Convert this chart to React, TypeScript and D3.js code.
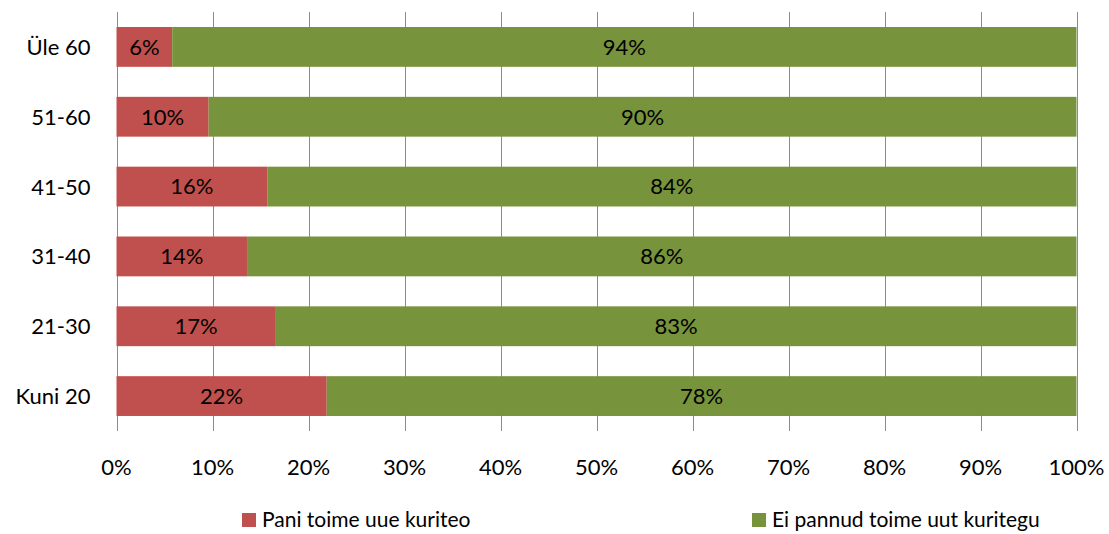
import React, { useEffect, useRef } from "react";
import * as d3 from "d3";

// age groups, top to bottom
const CATEGORIES = ["Üle 60", "51-60", "41-50", "31-40", "21-30", "Kuni 20"];
// share that committed a new crime (%), the rest is the other series
const COMMITTED = [5.8, 9.6, 15.7, 13.6, 16.6, 21.9];
const NOT_COMMITTED = COMMITTED.map((v) => 100 - v);
const SERIES_NAMES = ["Pani toime uue kuriteo", "Ei pannud toime uut kuritegu"];
const TICKS = [0, 10, 20, 30, 40, 50, 60, 70, 80, 90, 100];

const COLORS = ["#C0504D", "#77933C"];
const FONT = "Lato, 'Open Sans', sans-serif";
const FS = "22px";

export default function App() {
  const svgRef = useRef<SVGSVGElement | null>(null);
  const width = 1109;
  const height = 534;

  useEffect(() => {
    const svg = d3.select(svgRef.current);
    svg.selectAll("*").remove();

    const margin = { top: 12, left: 116.5, right: 32.5, bottom: 103 };
    const x = d3.scaleLinear().domain([0, 100]).range([margin.left, width - margin.right]);
    const y = d3
      .scaleBand()
      .domain(CATEGORIES)
      .range([margin.top, height - margin.bottom])
      .paddingInner(0.43)
      .paddingOuter(0.215);

    // vertical gridlines
    svg
      .append("g")
      .selectAll("line")
      .data(TICKS)
      .join("line")
      .attr("x1", (d) => Math.round(x(d)) + 0.5)
      .attr("x2", (d) => Math.round(x(d)) + 0.5)
      .attr("y1", margin.top)
      .attr("y2", height - margin.bottom)
      .attr("stroke", "#8c8c8c")
      .attr("stroke-width", 1);

    const rows = CATEGORIES.map((c, i) => ({
      cat: c,
      segs: [
        { x0: 0, x1: COMMITTED[i], v: COMMITTED[i], s: 0 },
        { x0: COMMITTED[i], x1: 100, v: NOT_COMMITTED[i], s: 1 },
      ],
    }));

    const g = svg
      .append("g")
      .selectAll("g")
      .data(rows)
      .join("g")
      .attr("transform", (d) => `translate(0,${y(d.cat)})`);

    g.selectAll("rect")
      .data((d) => d.segs)
      .join("rect")
      .attr("x", (d) => x(d.x0))
      .attr("width", (d) => x(d.x1) - x(d.x0))
      .attr("y", 0)
      .attr("height", y.bandwidth())
      .attr("fill", (d) => COLORS[d.s]);

    g.selectAll("text")
      .data((d) => d.segs)
      .join("text")
      .attr("x", (d) => (x(d.x0) + x(d.x1)) / 2)
      .attr("y", y.bandwidth() / 2)
      .attr("dy", "0.36em")
      .attr("text-anchor", "middle")
      .style("font-family", FONT)
      .style("font-size", FS)
      .attr("fill", "#000")
      .text((d) => `${Math.round(d.v)}%`);

    // category labels
    svg
      .append("g")
      .selectAll("text")
      .data(CATEGORIES)
      .join("text")
      .attr("x", margin.left - 26)
      .attr("y", (d) => (y(d) ?? 0) + y.bandwidth() / 2)
      .attr("dy", "0.36em")
      .attr("text-anchor", "end")
      .style("font-family", FONT)
      .style("font-size", FS)
      .text((d) => d);

    // x tick labels
    svg
      .append("g")
      .selectAll("text")
      .data(TICKS)
      .join("text")
      .attr("x", (d) => x(d))
      .attr("y", 475)
      .attr("text-anchor", "middle")
      .style("font-family", FONT)
      .style("font-size", FS)
      .text((d) => `${d}%`);

    // legend
    const legendX = [242, 752];
    const lg = svg
      .append("g")
      .selectAll("g")
      .data(SERIES_NAMES)
      .join("g")
      .attr("transform", (_, i) => `translate(${legendX[i]},0)`);
    lg.append("rect")
      .attr("x", 0)
      .attr("y", 513)
      .attr("width", 14)
      .attr("height", 14)
      .attr("fill", (_, i) => COLORS[i]);
    lg.append("text")
      .attr("x", 20)
      .attr("y", 527)
      .style("font-family", FONT)
      .style("font-size", "21px")
      .text((d) => d);
  }, []);

  return (
    <svg
      ref={svgRef}
      width={width}
      height={height}
      style={{ position: "absolute", left: 0, top: 0, background: "#fff" }}
    />
  );
}
